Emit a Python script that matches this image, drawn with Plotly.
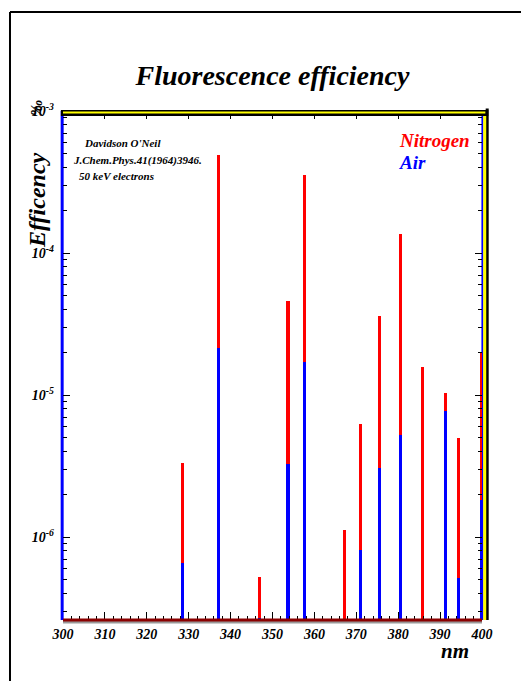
import plotly.graph_objects as go

wavelengths = [328.5, 337.1, 346.9, 353.7, 357.7, 367.2, 371.1, 375.6, 380.5, 385.8, 391.4, 394.3, 399.8]
nitrogen = [3.33e-6, 4.93e-4, 5.21e-7, 4.58e-5, 3.53e-4, 1.12e-6, 6.24e-6, 3.61e-5, 1.36e-4, 1.58e-5, 1.03e-5, 4.95e-6, 1.97e-5]
air = [6.53e-7, 2.14e-5, 2.7e-7, 3.28e-6, 1.71e-5, None, 8.1e-7, 3.06e-6, 5.23e-6, None, 7.66e-6, 5.15e-7, 1.82e-6]
x_ticks = [300, 310, 320, 330, 340, 350, 360, 370, 380, 390, 400]
y_ticks = [1e-3, 1e-4, 1e-5, 1e-6]
y_ticktext = ["10<sup>-3</sup>", "10<sup>-4</sup>", "10<sup>-5</sup>", "10<sup>-6</sup>"]
y_minor = [m * 10.0 ** e for e in (-7, -6, -5, -4) for m in range(2, 10)]

SERIF = "Liberation Serif"

def f(size, color="black"):
    return dict(family=SERIF, size=size, color=color, weight="bold", style="italic")

fig = go.Figure()
fig.add_trace(go.Bar(x=wavelengths, y=nitrogen, width=0.72, marker=dict(color="#ff0000", line=dict(width=0)), name="Nitrogen"))
fig.add_trace(go.Bar(x=wavelengths, y=air, width=0.72, marker=dict(color="#0000ff", line=dict(width=0)), name="Air"))

fig.update_layout(
    width=521, height=681,
    margin=dict(l=63, r=39, t=111, b=61),
    paper_bgcolor="white", plot_bgcolor="white",
    barmode="overlay", showlegend=False, bargap=0,
    title=dict(text="Fluorescence efficiency", x=0.5, xanchor="center", xref="paper",
               y=1 - 75 / 681, yanchor="middle", font=f(28)),
)
fig.update_xaxes(
    range=[300, 400], tickvals=x_ticks, ticktext=[str(v) for v in x_ticks],
    ticks="inside", ticklen=8, tickwidth=1, tickcolor="black",
    minor=dict(dtick=2, ticks="inside", ticklen=4, tickcolor="black"),
    showgrid=False, zeroline=False, showline=False, mirror="ticks",
    tickfont=f(14), ticklabelstandoff=4,
)
fig.update_yaxes(
    type="log", range=[-6.584, -3],
    tickvals=y_ticks, ticktext=y_ticktext,
    ticks="inside", ticklen=7, tickwidth=1, tickcolor="black",
    minor=dict(tickvals=y_minor, ticks="inside", ticklen=4, tickcolor="black", showgrid=False),
    showgrid=False, zeroline=False, showline=False, mirror="ticks",
    tickfont=f(14), ticklabelstandoff=8,
)

shapes = []
# outer frame (left and top)
shapes.append(dict(type="line", xref="paper", yref="paper", x0=-0.1265, x1=-0.1265, y0=-0.2, y1=1.1945,
                   line=dict(color="black", width=2)))
shapes.append(dict(type="line", xref="paper", yref="paper", x0=-0.1265, x1=1.2, y0=1.1945, y1=1.1945,
                   line=dict(color="black", width=2)))
# bottom axis
shapes.append(dict(type="line", xref="paper", yref="paper", x0=0, x1=1, y0=-0.004, y1=-0.004,
                   line=dict(color="#999999", width=3)))
shapes.append(dict(type="line", xref="paper", yref="paper", x0=0, x1=1, y0=0, y1=0,
                   line=dict(color="#8b0000", width=3)))
# left axis
shapes.append(dict(type="line", xref="paper", yref="paper", x0=-0.002, x1=-0.002, y0=0, y1=1,
                   line=dict(color="#0000ff", width=3), layer="below"))
# right axis
shapes.append(dict(type="line", xref="paper", yref="paper", x0=1.0124, x1=1.0124, y0=0, y1=1.005,
                   line=dict(color="black", width=3)))
shapes.append(dict(type="line", xref="paper", yref="paper", x0=1.0065, x1=1.0065, y0=0, y1=1.0,
                   line=dict(color="#ffff00", width=3)))
shapes.append(dict(type="line", xref="paper", yref="paper", x0=1.001, x1=1.001, y0=0, y1=1.0,
                   line=dict(color="#0000ff", width=2), layer="below"))
# top axis
shapes.append(dict(type="line", xref="paper", yref="paper", x0=-0.005, x1=1.015, y0=0.996, y1=0.996,
                   line=dict(color="black", width=6)))
shapes.append(dict(type="line", xref="paper", yref="paper", x0=0.0, x1=1.008, y0=0.997, y1=0.997,
                   line=dict(color="#ffff00", width=2)))
fig.update_layout(shapes=shapes)

def px2x(px):
    return (px - 63) / 419.0

def px2y(py):
    return (620 - py) / 509.0

ann = [
    dict(text="Davidson O'Neil", x=px2x(82), y=px2y(143), xanchor="left", font=f(11)),
    dict(text="J.Chem.Phys.41(1964)3946.", x=px2x(71), y=px2y(160), xanchor="left", font=f(11)),
    dict(text="50 keV electrons", x=px2x(77), y=px2y(176), xanchor="left", font=f(11)),
    dict(text="Nitrogen", x=px2x(397), y=px2y(140), xanchor="left", font=f(19, "#ff0000")),
    dict(text="Air", x=px2x(397), y=px2y(162), xanchor="left", font=f(19, "#0000ff")),
    dict(text="nm", x=px2x(455), y=px2y(651), xanchor="center", font=f(21)),
    dict(text="Efficency", x=px2x(37), y=px2y(200), xanchor="center", textangle=-90, font=f(24)),
    dict(text="‰", x=px2x(36), y=px2y(108), xanchor="center", textangle=-90, font=f(16)),
]
for a in ann:
    a.update(xref="paper", yref="paper", showarrow=False, yanchor="middle")
fig.update_layout(annotations=ann)

fig.write_html("out.html")
